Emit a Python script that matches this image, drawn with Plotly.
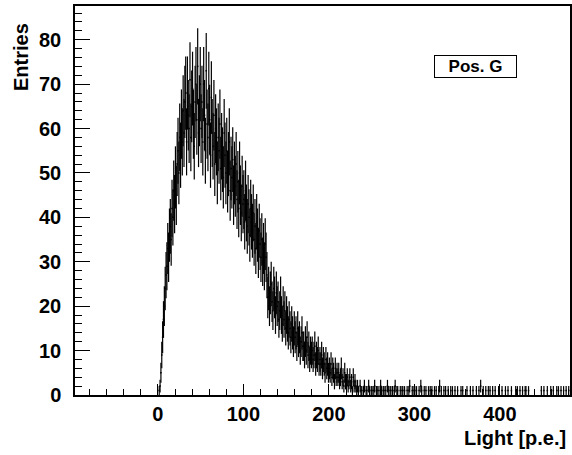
import numpy as np
import plotly.graph_objects as go

# Histogram: bin centres start at 0.5 p.e., 1 p.e. wide
bin_start = 0.0
bin_width = 1.0
counts = [
    0, 1, 2, 5, 9, 13, 17, 20, 24, 27,
    29, 33, 31, 36, 38, 35, 42, 40, 46, 43,
    49, 45, 52, 55, 50, 58, 54, 61, 57, 64,
    59, 66, 68, 57, 68, 63, 60, 71, 58, 65,
    69, 61, 56, 66, 70, 62, 74, 59, 64, 70,
    60, 66, 57, 70, 63, 55, 73, 61, 58, 69,
    62, 54, 67, 59, 56, 63, 52, 60, 57, 50,
    58, 55, 61, 51, 56, 53, 49, 59, 54, 50,
    55, 48, 52, 57, 46, 51, 49, 53, 45, 50,
    47, 52, 44, 48, 42, 50, 45, 41, 47, 43,
    44, 39, 46, 41, 38, 43, 40, 36, 42, 39,
    37, 41, 35, 38, 33, 39, 36, 32, 37, 34,
    31, 35, 30, 33, 29, 34, 31, 27, 22, 24,
    20, 23, 25, 21, 19, 24, 22, 18, 23, 20,
    21, 17, 19, 22, 18, 16, 20, 17, 19, 15,
    18, 16, 14, 17, 15, 13, 16, 14, 12, 15,
    13, 14, 11, 15, 12, 13, 10, 12, 14, 11,
    11, 9, 12, 10, 13, 9, 11, 8, 10, 9,
    10, 8, 9, 11, 7, 9, 8, 10, 7, 8,
    7, 9, 6, 8, 7, 5, 8, 6, 7, 5,
    6, 5, 7, 4, 6, 5, 3, 6, 4, 5,
    4, 5, 3, 4, 6, 3, 4, 2, 5, 3,
    3, 4, 2, 3, 4, 2, 3, 1, 4, 2,
    3, 2, 1, 2, 1, 0, 2, 1, 1, 0,
    1, 2, 0, 1, 1, 0, 2, 1, 0, 1,
    1, 0, 1, 2, 0, 1, 1, 0, 1, 0,
    2, 1, 0, 1, 1, 0, 1, 0, 2, 1,
    0, 1, 1, 0, 1, 0, 1, 2, 0, 1,
    1, 0, 0, 1, 0, 1, 1, 0, 1, 0,
    0, 1, 0, 1, 2, 0, 0, 1, 0, 1,
    1, 0, 1, 0, 0, 1, 0, 2, 1, 0,
    0, 1, 0, 1, 0, 0, 1, 0, 1, 0,
    1, 0, 0, 1, 0, 1, 0, 0, 1, 2,
    0, 1, 0, 0, 1, 0, 1, 0, 0, 1,
    0, 0, 1, 0, 1, 0, 0, 1, 0, 0,
    1, 0, 0, 0, 1, 0, 1, 0, 0, 0,
    0, 1, 0, 0, 0, 1, 0, 0, 1, 0,
    0, 0, 1, 0, 0, 1, 0, 2, 0, 0,
    1, 0, 0, 1, 0, 0, 1, 0, 1, 0,
    0, 1, 0, 0, 1, 0, 0, 0, 1, 0,
    0, 0, 1, 0, 0, 0, 1, 0, 0, 1,
    0, 0, 0, 1, 0, 0, 0, 0, 1, 0,
    1, 0, 0, 1, 0, 0, 1, 0, 0, 1,
    1, 0, 0, 1, 0, 0, 0, 0, 0, 0,
    0, 0, 0, 0, 0, 0, 0, 0, 1, 0,
    0, 1, 0, 0, 0, 1, 0, 0, 0, 1,
    0, 0, 1, 0, 0, 0, 1, 0, 1, 0,
    0, 1, 0, 0, 1, 0, 0, 1, 0, 0,
    1, 0, 0, 1, 0,
]

x_tick_vals = [0, 100, 200, 300, 400]
y_tick_vals = [0, 10, 20, 30, 40, 50, 60, 70, 80]
x_title = "Light [p.e.]"
y_title = "Entries"
label_text = "Pos. G"

counts_arr = np.array(counts, dtype=float)
centres = bin_start + bin_width * (np.arange(len(counts_arr)) + 0.5)
mask = counts_arr > 0
xs = centres[mask]
ys = counts_arr[mask]
errs = np.sqrt(ys)

FONT = "Liberation Sans, Arial, Helvetica, sans-serif"

fig = go.Figure()
fig.add_trace(go.Scatter(
    x=xs, y=ys, mode="markers",
    marker=dict(color="black", size=1.5, symbol="square"),
    error_y=dict(type="data", array=errs, visible=True, color="black",
                 thickness=1.2, width=0),
    hoverinfo="skip", showlegend=False,
))

fig.update_layout(
    width=572, height=455,
    margin=dict(l=75, r=2, t=6, b=60, autoexpand=False),
    paper_bgcolor="white", plot_bgcolor="white",
    showlegend=False,
    xaxis=dict(
        range=[-97, 482], showgrid=False, zeroline=False,
        showline=True, linecolor="black", linewidth=1.5, mirror=True,
        ticks="inside", ticklen=11, tickwidth=1, tickcolor="black",
        tickvals=x_tick_vals, ticktext=[str(v) for v in x_tick_vals],
        tickfont=dict(family=FONT, size=20, color="black", weight="bold"),
        minor=dict(ticks="inside", ticklen=6, tickwidth=1, tickcolor="black",
                   dtick=20, tick0=0, showgrid=False),
    ),
    yaxis=dict(
        range=[0, 87.6], showgrid=False, zeroline=False,
        showline=True, linecolor="black", linewidth=1.5, mirror=True,
        ticks="inside", ticklen=15, tickwidth=1, tickcolor="black",
        tickvals=y_tick_vals, ticktext=[str(v) for v in y_tick_vals],
        tickfont=dict(family=FONT, size=20, color="black", weight="bold"),
        ticklabelstandoff=8,
        minor=dict(ticks="inside", ticklen=7.5, tickwidth=1, tickcolor="black",
                   dtick=2, tick0=0, showgrid=False),
    ),
    annotations=[
        dict(text=y_title, xref="paper", yref="paper", x=-0.109, y=0.869,
             xanchor="center", yanchor="middle", textangle=-90, showarrow=False,
             font=dict(family=FONT, size=20, color="black", weight="bold")),
        dict(text=x_title, xref="paper", yref="paper", x=0.996, y=-0.1105,
             xanchor="right", yanchor="middle", showarrow=False,
             font=dict(family=FONT, size=20, color="black", weight="bold")),
        dict(text=label_text, xref="paper", yref="paper", x=0.81, y=0.845,
             xanchor="center", yanchor="middle", showarrow=False,
             bordercolor="black", borderwidth=1, borderpad=1, bgcolor="white",
             width=79, height=19,
             font=dict(family=FONT, size=17, color="black", weight="bold")),
    ],
)

fig.write_html("out.html", config={"displayModeBar": False},
               post_script="document.body.style.margin='0';document.body.style.padding='0';")
